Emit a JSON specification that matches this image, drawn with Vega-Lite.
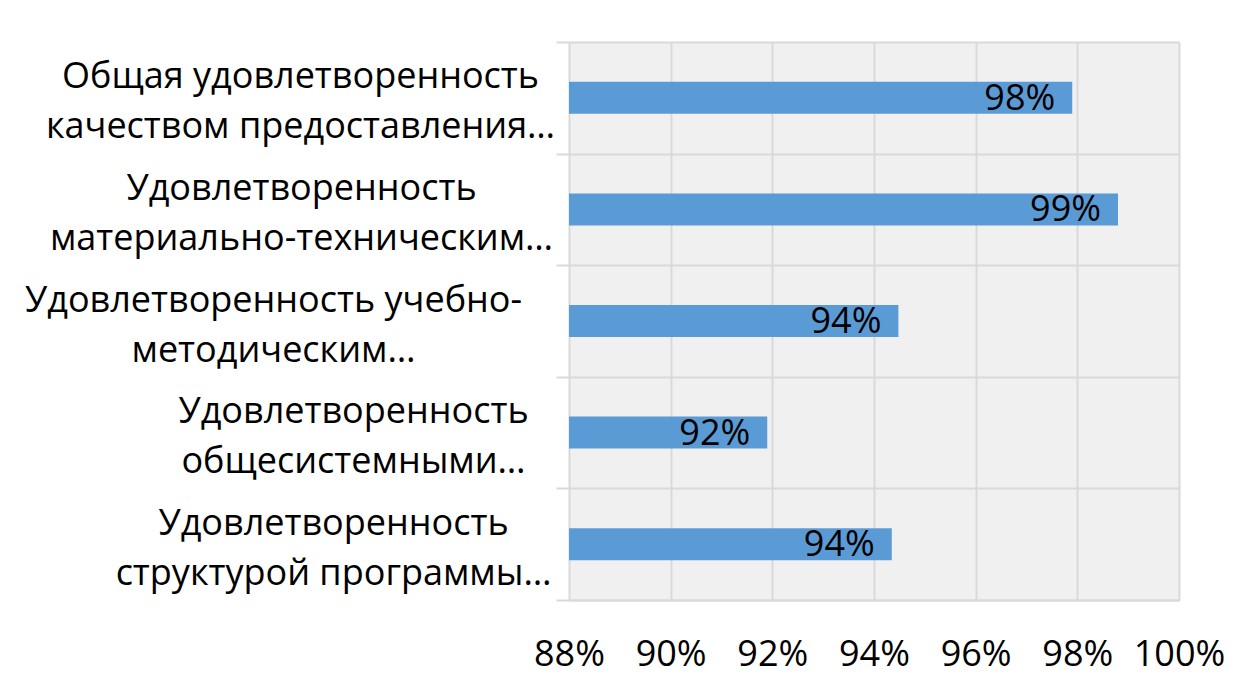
{
  "$schema": "https://vega.github.io/schema/vega-lite/v6.json",
  "width": 610,
  "height": 558,
  "autosize": {"type": "none"},
  "padding": {"left": 569, "top": 42, "right": 66, "bottom": 89},
  "background": "white",
  "config": {"view": {"fill": "#f0f0f0", "stroke": null}, "font": "Open Sans"},
  "data": {
    "values": [
      {"category": "Общая удовлетворенность|качеством предоставления…", "value": 0.979},
      {"category": "Удовлетворенность|материально-техническим…", "value": 0.988},
      {"category": "Удовлетворенность учебно-|методическим…", "value": 0.9448},
      {"category": "Удовлетворенность|общесистемными…", "value": 0.919},
      {"category": "Удовлетворенность|структурой программы…", "value": 0.9435}
    ]
  },
  "encoding": {
    "y": {
      "field": "category",
      "type": "nominal",
      "sort": null,
      "scale": {"paddingInner": 0, "paddingOuter": 0},
      "axis": {
        "title": null,
        "tickBand": "extent",
        "grid": true,
        "gridColor": "#d9d9d9",
        "gridWidth": 2,
        "domain": false,
        "ticks": true,
        "tickColor": "#d9d9d9",
        "tickWidth": 2,
        "tickSize": 13,
        "labelExpr": "split(datum.label, '|')",
        "labelAlign": "center",
        "labelBaseline": "middle",
        "labelLineHeight": 50,
        "labelFontSize": 36,
        "labelColor": "#000000",
        "labelLimit": 2000,
        "labelOffset": -21,
        "labelPadding": {
          "condition": [
            {"test": "datum.value == 'Общая удовлетворенность|качеством предоставления…'", "value": 256},
            {"test": "datum.value == 'Удовлетворенность|материально-техническим…'", "value": 255},
            {"test": "datum.value == 'Удовлетворенность учебно-|методическим…'", "value": 283},
            {"test": "datum.value == 'Удовлетворенность|общесистемными…'", "value": 203}
          ],
          "value": 223
        }
      }
    }
  },
  "layer": [
    {
      "mark": {"type": "bar", "color": "#5B9BD5", "height": {"band": 0.287}, "clip": true},
      "encoding": {
        "x": {
          "field": "value",
          "type": "quantitative",
          "scale": {"domain": [0.88, 1.0], "zero": false, "nice": false},
          "axis": {
            "title": null,
            "values": [0.88, 0.9, 0.92, 0.94, 0.96, 0.98, 1.0],
            "format": ".0%",
            "grid": true,
            "gridColor": "#d9d9d9",
            "gridWidth": 2,
            "domain": true,
            "domainColor": "#d9d9d9",
            "domainWidth": 2,
            "ticks": false,
            "labelFontSize": 36,
            "labelColor": "#000000",
            "labelBaseline": "middle",
            "labelPadding": 54,
            "labelFlush": false,
            "labelOverlap": false
          }
        }
      }
    },
    {
      "mark": {"type": "text", "align": "right", "baseline": "middle", "dx": -17, "dy": 1, "fontSize": 36, "color": "#000000"},
      "encoding": {
        "x": {"field": "value", "type": "quantitative"},
        "text": {"field": "value", "type": "quantitative", "format": ".0%"}
      }
    }
  ]
}
